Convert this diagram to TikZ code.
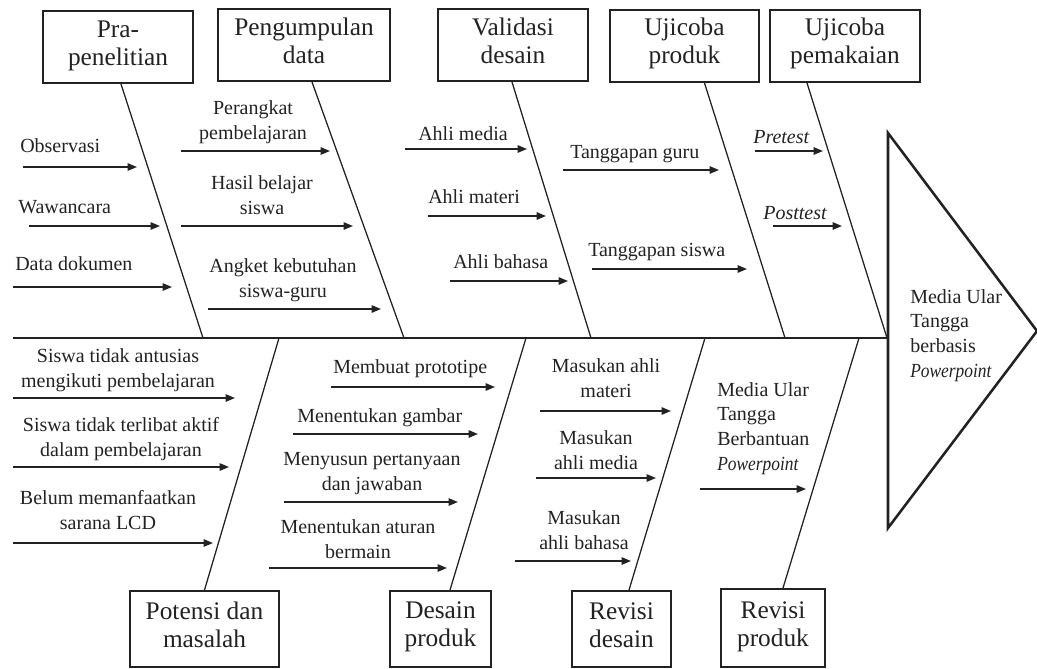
\documentclass[tikz,border=0pt]{standalone}
\usepackage{fontspec}
\usepackage{graphicx}
\setmainfont{Liberation Serif}
\usetikzlibrary{arrows.meta}
\newdimen\pxu \pxu=0.75pt
\newcommand{\ppt}{\scalebox{0.87}[1]{\textit{Powerpoint}}}
\definecolor{ink}{HTML}{222222}
\tikzset{
  box/.style={draw=ink, line width=1.5pt, fill=white, inner sep=0pt},
  boxtext/.style={align=center, text=ink, inner sep=0pt, anchor=base,
     font=\fontsize{19}{21}\selectfont},
  bone/.style={draw=ink, line width=0.95pt},
  spine/.style={draw=ink, line width=1.1pt},
  arr/.style={draw=ink, line width=1.15pt, -{Triangle[length=7pt,width=5.5pt]}},
  lbl/.style={text=ink, inner sep=0pt, font=\fontsize{15}{18.5}\selectfont, anchor=base},
  lblw/.style={lbl, anchor=base west},
}
\begin{document}
\begin{tikzpicture}[x=0.75pt,y=-0.75pt]
\useasboundingbox (0,0) rectangle (1037,668);
% top boxes
\node[box, minimum width=150\pxu, minimum height=72\pxu] (pra) at (118,47) {};
\node[boxtext] (prat) at (118,65) {Pra-\\penelitian};
\node[box, minimum width=172\pxu, minimum height=72\pxu] (kumpul) at (304,45) {};
\node[boxtext] (kumpult) at (304,63) {Pengumpulan\\data};
\node[box, minimum width=150\pxu, minimum height=72\pxu] (valid) at (513,45) {};
\node[boxtext] (validt) at (513,63) {Validasi\\desain};
\node[box, minimum width=149\pxu, minimum height=72\pxu] (ujiprod) at (684.5,46) {};
\node[boxtext] (ujiprodt) at (684.5,63.5) {Ujicoba\\produk};
\node[box, minimum width=150\pxu, minimum height=72\pxu] (ujipakai) at (845,46) {};
\node[boxtext] (ujipakait) at (845,63.5) {Ujicoba\\pemakaian};
% bottom boxes
\node[box, minimum width=149\pxu, minimum height=76\pxu] (potensi) at (204.5,629) {};
\node[boxtext] (potensit) at (204.5,647) {Potensi dan\\masalah};
\node[box, minimum width=101\pxu, minimum height=76\pxu] (desain) at (440.5,629) {};
\node[boxtext] (desaint) at (440.5,646) {Desain\\produk};
\node[box, minimum width=99\pxu, minimum height=76\pxu] (revdes) at (621.5,629) {};
\node[boxtext] (revdest) at (621.5,647) {Revisi\\desain};
\node[box, minimum width=104\pxu, minimum height=78\pxu] (revprod) at (773,628) {};
\node[boxtext] (revprodt) at (773,646) {Revisi\\produk};
% head
\coordinate (h1) at (888,133);
\coordinate (h2) at (1037,331);
\coordinate (h3) at (888,528);
\draw[draw=ink, line width=1.9pt, line join=miter] (h1) -- (h2) -- (h3) -- cycle;
\node[lblw, align=left] (head) at (910,377) {Media Ular\\Tangga\\berbasis\\\ppt};
% spine
\coordinate (tail) at (13,338);
\coordinate (s1) at (203,338);
\coordinate (s2) at (404,338);
\coordinate (s3) at (591,338);
\coordinate (s4) at (785,338);
\coordinate (s5) at (887,338);
\coordinate (t1) at (279,338);
\coordinate (t2) at (526,338);
\coordinate (t3) at (705,338);
\coordinate (t4) at (859,338);
\draw[spine] (tail) -- (h1 |- tail);
% bones
\draw[bone] ([xshift=3\pxu]pra.south) -- (s1);
\draw[bone] ([xshift=8\pxu]kumpul.south) -- (s2);
\draw[bone] ([xshift=-1\pxu]valid.south) -- (s3);
\draw[bone] ([xshift=20\pxu]ujiprod.south) -- (s4);
\draw[bone] ([xshift=-38\pxu]ujipakai.south) -- (s5);
\draw[bone] (potensi.north) -- (t1);
\draw[bone] ([xshift=9.5\pxu]desain.north) -- (t2);
\draw[bone] ([xshift=7.5\pxu]revdes.north) -- (t3);
\draw[bone] ([xshift=10\pxu]revprod.north) -- (t4);
% top-left labels and arrows
\node[lblw] (l1) at (20,152) {Observasi};
\coordinate (a1s) at (23,167); \coordinate (a1e) at (137,167);
\draw[arr] (a1s) -- (a1e);
\node[lblw] (l2) at (18,213) {Wawancara};
\coordinate (a2s) at (29,226); \coordinate (a2e) at (160,226);
\draw[arr] (a2s) -- (a2e);
\node[lblw] (l3) at (15,270) {Data dokumen};
\coordinate (a3s) at (13,287); \coordinate (a3e) at (172,287);
\draw[arr] (a3s) -- (a3e);
\node[lbl, align=center] (l4) at (253,139) {Perangkat\\pembelajaran};
\coordinate (a4s) at (181,151); \coordinate (a4e) at (330,151);
\draw[arr] (a4s) -- (a4e);
\node[lbl, align=center] (l5) at (262,214) {Hasil belajar\\siswa};
\coordinate (a5s) at (181,226); \coordinate (a5e) at (353,226);
\draw[arr] (a5s) -- (a5e);
\node[lbl, align=center] (l6) at (283,297) {Angket kebutuhan\\siswa-guru};
\coordinate (a6s) at (208,309); \coordinate (a6e) at (381,309);
\draw[arr] (a6s) -- (a6e);
\node[lblw] (l7) at (418,140) {Ahli media};
\coordinate (a7s) at (405,149); \coordinate (a7e) at (527,149);
\draw[arr] (a7s) -- (a7e);
\node[lblw] (l8) at (428,203) {Ahli materi};
\coordinate (a8s) at (428,216); \coordinate (a8e) at (546,216);
\draw[arr] (a8s) -- (a8e);
\node[lblw] (l9) at (453,268) {Ahli bahasa};
\coordinate (a9s) at (450,281); \coordinate (a9e) at (568,281);
\draw[arr] (a9s) -- (a9e);
\node[lblw] (l10) at (570,158) {Tanggapan guru};
\coordinate (a10s) at (563,170); \coordinate (a10e) at (719,170);
\draw[arr] (a10s) -- (a10e);
\node[lblw] (l11) at (588,256) {Tanggapan siswa};
\coordinate (a11s) at (592,269); \coordinate (a11e) at (747,269);
\draw[arr] (a11s) -- (a11e);
\node[lblw] (l12) at (753,143) {\textit{Pretest}};
\coordinate (a12s) at (755,151); \coordinate (a12e) at (823,151);
\draw[arr] (a12s) -- (a12e);
\node[lblw] (l13) at (763,219) {\textit{Posttest}};
\coordinate (a13s) at (773,226); \coordinate (a13e) at (842,226);
\draw[arr] (a13s) -- (a13e);
% bottom labels and arrows
\node[lbl, align=center] (m1) at (118,387) {Siswa tidak antusias\\mengikuti pembelajaran};
\coordinate (b1s) at (13,398); \coordinate (b1e) at (235,398);
\draw[arr] (b1s) -- (b1e);
\node[lbl, align=center] (m2) at (121,456) {Siswa tidak terlibat aktif\\dalam pembelajaran};
\coordinate (b2s) at (13,467); \coordinate (b2e) at (229,467);
\draw[arr] (b2s) -- (b2e);
\node[lbl, align=center] (m3) at (108,529) {Belum memanfaatkan\\sarana LCD};
\coordinate (b3s) at (13,543); \coordinate (b3e) at (213,543);
\draw[arr] (b3s) -- (b3e);
\node[lblw] (m4) at (333,373) {Membuat prototipe};
\coordinate (b4s) at (331,387); \coordinate (b4e) at (495,387);
\draw[arr] (b4s) -- (b4e);
\node[lblw] (m5) at (297,422) {Menentukan gambar};
\coordinate (b5s) at (293,434); \coordinate (b5e) at (478,434);
\draw[arr] (b5s) -- (b5e);
\node[lbl, align=center] (m6) at (372,490) {Menyusun pertanyaan\\dan jawaban};
\coordinate (b6s) at (284,502); \coordinate (b6e) at (458,502);
\draw[arr] (b6s) -- (b6e);
\node[lbl, align=center] (m7) at (358,558) {Menentukan aturan\\bermain};
\coordinate (b7s) at (269,568); \coordinate (b7e) at (447,568);
\draw[arr] (b7s) -- (b7e);
\node[lbl, align=center] (m8) at (606,397) {Masukan ahli\\materi};
\coordinate (b8s) at (540,411); \coordinate (b8e) at (671,411);
\draw[arr] (b8s) -- (b8e);
\node[lbl, align=center] (m9) at (596,469) {Masukan\\ahli media};
\coordinate (b9s) at (536,478); \coordinate (b9e) at (656,478);
\draw[arr] (b9s) -- (b9e);
\node[lbl, align=center] (m10) at (584,549) {Masukan\\ahli bahasa};
\coordinate (b10s) at (515,561); \coordinate (b10e) at (631,561);
\draw[arr] (b10s) -- (b10e);
\node[lblw, align=left] (m11) at (717,470) {Media Ular\\Tangga\\Berbantuan\\\ppt};
\coordinate (b11s) at (700,489); \coordinate (b11e) at (806,489);
\draw[arr] (b11s) -- (b11e);
\end{tikzpicture}
\end{document}
